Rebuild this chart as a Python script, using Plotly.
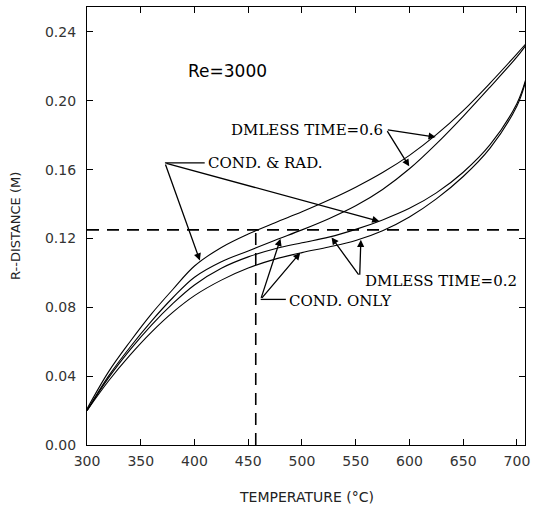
import plotly.graph_objects as go

# ---------------- data ----------------
temperature = [300, 320, 340, 360, 380, 400, 425, 450, 475, 500, 525, 550, 575, 600, 625, 650, 675, 700, 708]
r_cond_rad_06 = [0.021, 0.0425, 0.0600, 0.0762, 0.0905, 0.1040, 0.1148, 0.1226, 0.1292, 0.1355, 0.1423, 0.1498, 0.1583, 0.1683, 0.1803, 0.1943, 0.2103, 0.2273, 0.2329]
r_cond_only_06 = [0.020, 0.0400, 0.0568, 0.0720, 0.0857, 0.0975, 0.1065, 0.1127, 0.1190, 0.1250, 0.1315, 0.1390, 0.1485, 0.1605, 0.1750, 0.1910, 0.2080, 0.2255, 0.2320]
r_cond_rad_02 = [0.020, 0.0390, 0.0553, 0.0697, 0.0823, 0.0930, 0.1027, 0.1093, 0.1140, 0.1175, 0.1208, 0.1253, 0.1308, 0.1375, 0.1465, 0.1585, 0.1745, 0.1985, 0.2120]
r_cond_only_02 = [0.020, 0.0372, 0.0522, 0.0656, 0.0772, 0.0868, 0.0958, 0.1028, 0.1080, 0.1118, 0.1150, 0.1188, 0.1245, 0.1325, 0.1430, 0.1560, 0.1725, 0.1970, 0.2110]

x_ticks = [300, 350, 400, 450, 500, 550, 600, 650, 700]
y_ticks = [0.00, 0.04, 0.08, 0.12, 0.16, 0.20, 0.24]
y_tick_labels = ["0.00", "0.04", "0.08", "0.12", "0.16", "0.20", "0.24"]

# reference (dashed) lines
ref_r = 0.125
ref_t = 457

# label anchors and leader targets (data coordinates)
lbl_06 = dict(text="DMLESS TIME=0.6", x=577, y=0.183, vertex=(578.5, 0.1832),
              tips=[(624.4, 0.1789), (599.8, 0.1619)])
lbl_cr = dict(text="COND. &amp; RAD.", x=410.5, y=0.1639, vertex=(372.5, 0.1639),
              tips=[(405.0, 0.1072), (572.0, 0.130)])
lbl_02 = dict(text="DMLESS TIME=0.2", x=557.0, y=0.0955, vertex=(553.7, 0.0981),
              tips=[(527.5, 0.1206), (554.8, 0.1192)])
lbl_co = dict(text="COND. ONLY", x=486.0, y=0.0837, vertex=(461.6, 0.0846),
              tips=[(480.0, 0.1198), (498.4, 0.1117)])

# ---------------- figure ----------------
fig = go.Figure()
for ys in [r_cond_rad_06, r_cond_only_06, r_cond_rad_02, r_cond_only_02]:
    fig.add_trace(go.Scatter(x=temperature, y=ys, mode="lines",
                             line=dict(color="black", width=1.1, shape="spline", smoothing=1.0),
                             showlegend=False, hoverinfo="skip"))

# dashed lines
fig.add_trace(go.Scatter(x=[300, 707.5], y=[ref_r, ref_r], mode="lines",
                         line=dict(color="black", width=1.6, dash="12px,8px"),
                         showlegend=False, hoverinfo="skip"))
fig.add_trace(go.Scatter(x=[ref_t, ref_t], y=[0, ref_r], mode="lines",
                         line=dict(color="black", width=1.6, dash="12px,8px"),
                         showlegend=False, hoverinfo="skip"))

serif = "DejaVu Serif, Liberation Serif, serif"
sans = "DejaVu Sans, Liberation Sans, sans-serif"

annotations = []
shapes = []

def add_label(lbl, xanchor, leader=False):
    annotations.append(dict(x=lbl["x"], y=lbl["y"], xref="x", yref="y", text=lbl["text"],
                            showarrow=False, xanchor=xanchor, yanchor="middle",
                            font=dict(family=serif, size=15, color="black")))
    vx, vy = lbl["vertex"]
    if leader:
        shapes.append(dict(type="line", xref="x", yref="y", x0=vx, y0=vy, x1=lbl["x"] - 1, y1=vy,
                           line=dict(color="black", width=1.3)))
    for tx, ty in lbl["tips"]:
        annotations.append(dict(x=tx, y=ty, xref="x", yref="y", ax=vx, ay=vy,
                                axref="x", ayref="y", text="", showarrow=True,
                                arrowhead=2, arrowsize=1.1, arrowwidth=1.3, arrowcolor="black"))

add_label(lbl_06, "right")
add_label(lbl_cr, "left", leader=True)
add_label(lbl_02, "left")
add_label(lbl_co, "left", leader=True)

annotations.append(dict(x=431, y=0.2174, xref="x", yref="y", text="Re=3000", showarrow=False,
                        font=dict(family=sans, size=17, color="black")))

# axis titles
annotations.append(dict(x=0.5, y=0, xref="paper", yref="paper", text="TEMPERATURE (°C)",
                        showarrow=False, yshift=-52, yanchor="middle",
                        font=dict(family=sans, size=14, color="#222")))
annotations.append(dict(x=0, y=0.5, xref="paper", yref="paper", text="R--DISTANCE (M)",
                        showarrow=False, xshift=-72, textangle=-90, xanchor="center",
                        font=dict(family=sans, size=13, color="#222")))

fig.update_layout(
    width=536, height=511,
    margin=dict(l=87, r=6, t=6, b=66),
    paper_bgcolor="white", plot_bgcolor="white",
    annotations=annotations, shapes=shapes,
    xaxis=dict(range=[300, 707.5], tickvals=x_ticks, ticks="inside", ticklen=6,
               tickcolor="black", showline=True, linecolor="black", linewidth=1.2,
               mirror="ticks", showgrid=False, zeroline=False, ticklabelstandoff=3,
               tickfont=dict(family=sans, size=14, color="#333")),
    yaxis=dict(range=[0, 0.2545], tickvals=y_ticks, ticktext=y_tick_labels, ticks="inside",
               ticklen=6, tickcolor="black", showline=True, linecolor="black", linewidth=1.2,
               mirror="ticks", showgrid=False, zeroline=False, ticklabelstandoff=7,
               tickfont=dict(family=sans, size=14, color="#333")),
)

fig.write_html("out.html", config={"displayModeBar": False},
               post_script="document.body.style.margin='0';")
